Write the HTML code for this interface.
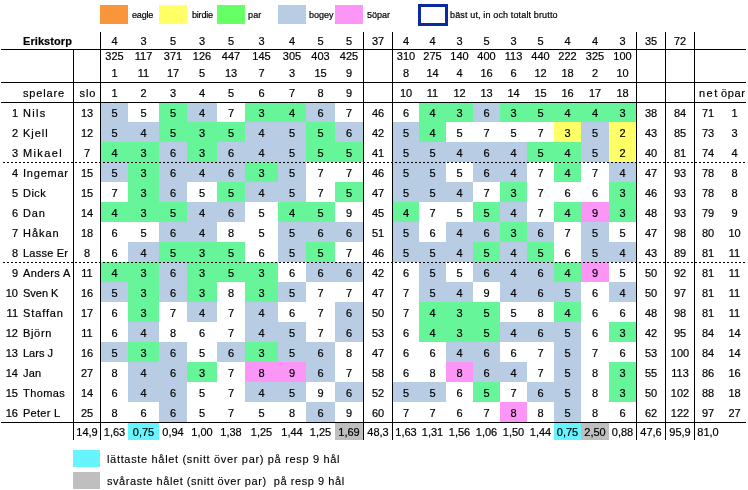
<!DOCTYPE html>
<html><head><meta charset="utf-8"><title>Erikstorp</title>
<style>
html,body{margin:0;padding:0;background:#fff;}
body{width:748px;height:490px;position:relative;overflow:hidden;font-family:"Liberation Sans",Arial,sans-serif;font-size:11px;color:#000;-webkit-text-stroke:0.2px #000;}
.r{position:absolute;}
.t{position:absolute;line-height:14px;white-space:nowrap;}
.t.c{text-align:center;} .t.l{text-align:left;} .t.r{text-align:right;}
.dl{position:absolute;height:1px;background:repeating-linear-gradient(90deg,#000 0,#000 2px,transparent 2px,transparent 4px);}
</style></head><body>
<div class="r" style="left:100px;top:5px;width:28px;height:19px;background:#F9963B"></div>
<div class="t l" style="left:132px;top:8px;width:26px;font-size:9px;letter-spacing:-0.175px">eagle</div>
<div class="r" style="left:159px;top:5px;width:28px;height:19px;background:#FFFF66"></div>
<div class="t l" style="left:192px;top:8px;width:24px;font-size:9px;letter-spacing:-0.2px">birdie</div>
<div class="r" style="left:217px;top:5px;width:28px;height:19px;background:#66FF66"></div>
<div class="t l" style="left:248px;top:8px;width:27px;font-size:9px;letter-spacing:0.15px">par</div>
<div class="r" style="left:278px;top:5px;width:28px;height:19px;background:#B8CCE4"></div>
<div class="t l" style="left:309px;top:8px;width:26px;font-size:9px">bogey</div>
<div class="r" style="left:335px;top:5px;width:28px;height:19px;background:#FC96F6"></div>
<div class="t l" style="left:367px;top:8px;width:28px;font-size:9px;letter-spacing:-0.025px">5öpar</div>
<div class="r" style="left:418px;top:4px;width:24px;height:16px;border:3px solid #0A2A9E;background:#fff"></div>
<div class="t l" style="left:450px;top:8px;width:150px;font-size:9px;letter-spacing:0.143px">bäst ut, in och totalt brutto</div>
<div class="t l" style="left:23px;top:34px;width:77px;letter-spacing:0.075px;font-weight:bold">Erikstorp</div>
<div class="t c" style="left:101px;top:34px;width:27px">4</div>
<div class="t c" style="left:101px;top:49px;width:27px">325</div>
<div class="t c" style="left:101px;top:66px;width:27px">1</div>
<div class="t c" style="left:101px;top:86px;width:27px">1</div>
<div class="t c" style="left:128px;top:34px;width:31px">3</div>
<div class="t c" style="left:128px;top:49px;width:31px">117</div>
<div class="t c" style="left:128px;top:66px;width:31px">11</div>
<div class="t c" style="left:128px;top:86px;width:31px">2</div>
<div class="t c" style="left:159px;top:34px;width:28px">5</div>
<div class="t c" style="left:159px;top:49px;width:28px">371</div>
<div class="t c" style="left:159px;top:66px;width:28px">17</div>
<div class="t c" style="left:159px;top:86px;width:28px">3</div>
<div class="t c" style="left:187px;top:34px;width:30px">3</div>
<div class="t c" style="left:187px;top:49px;width:30px">126</div>
<div class="t c" style="left:187px;top:66px;width:30px">5</div>
<div class="t c" style="left:187px;top:86px;width:30px">4</div>
<div class="t c" style="left:217px;top:34px;width:28px">5</div>
<div class="t c" style="left:217px;top:49px;width:28px">447</div>
<div class="t c" style="left:217px;top:66px;width:28px">13</div>
<div class="t c" style="left:217px;top:86px;width:28px">5</div>
<div class="t c" style="left:245px;top:34px;width:33px">3</div>
<div class="t c" style="left:245px;top:49px;width:33px">145</div>
<div class="t c" style="left:245px;top:66px;width:33px">7</div>
<div class="t c" style="left:245px;top:86px;width:33px">6</div>
<div class="t c" style="left:278px;top:34px;width:28px">4</div>
<div class="t c" style="left:278px;top:49px;width:28px">305</div>
<div class="t c" style="left:278px;top:66px;width:28px">3</div>
<div class="t c" style="left:278px;top:86px;width:28px">7</div>
<div class="t c" style="left:306px;top:34px;width:29px">5</div>
<div class="t c" style="left:306px;top:49px;width:29px">403</div>
<div class="t c" style="left:306px;top:66px;width:29px">15</div>
<div class="t c" style="left:306px;top:86px;width:29px">8</div>
<div class="t c" style="left:335px;top:34px;width:28px">5</div>
<div class="t c" style="left:335px;top:49px;width:28px">425</div>
<div class="t c" style="left:335px;top:66px;width:28px">9</div>
<div class="t c" style="left:335px;top:86px;width:28px">9</div>
<div class="t c" style="left:393px;top:34px;width:26px">4</div>
<div class="t c" style="left:393px;top:49px;width:26px">310</div>
<div class="t c" style="left:393px;top:66px;width:26px">8</div>
<div class="t c" style="left:393px;top:86px;width:26px">10</div>
<div class="t c" style="left:419px;top:34px;width:27px">4</div>
<div class="t c" style="left:419px;top:49px;width:27px">275</div>
<div class="t c" style="left:419px;top:66px;width:27px">14</div>
<div class="t c" style="left:419px;top:86px;width:27px">11</div>
<div class="t c" style="left:446px;top:34px;width:27px">3</div>
<div class="t c" style="left:446px;top:49px;width:27px">140</div>
<div class="t c" style="left:446px;top:66px;width:27px">4</div>
<div class="t c" style="left:446px;top:86px;width:27px">12</div>
<div class="t c" style="left:473px;top:34px;width:27px">5</div>
<div class="t c" style="left:473px;top:49px;width:27px">400</div>
<div class="t c" style="left:473px;top:66px;width:27px">16</div>
<div class="t c" style="left:473px;top:86px;width:27px">13</div>
<div class="t c" style="left:500px;top:34px;width:27px">3</div>
<div class="t c" style="left:500px;top:49px;width:27px">113</div>
<div class="t c" style="left:500px;top:66px;width:27px">6</div>
<div class="t c" style="left:500px;top:86px;width:27px">14</div>
<div class="t c" style="left:527px;top:34px;width:27px">5</div>
<div class="t c" style="left:527px;top:49px;width:27px">440</div>
<div class="t c" style="left:527px;top:66px;width:27px">12</div>
<div class="t c" style="left:527px;top:86px;width:27px">15</div>
<div class="t c" style="left:554px;top:34px;width:27px">4</div>
<div class="t c" style="left:554px;top:49px;width:27px">222</div>
<div class="t c" style="left:554px;top:66px;width:27px">18</div>
<div class="t c" style="left:554px;top:86px;width:27px">16</div>
<div class="t c" style="left:581px;top:34px;width:28px">4</div>
<div class="t c" style="left:581px;top:49px;width:28px">325</div>
<div class="t c" style="left:581px;top:66px;width:28px">2</div>
<div class="t c" style="left:581px;top:86px;width:28px">17</div>
<div class="t c" style="left:609px;top:34px;width:27px">3</div>
<div class="t c" style="left:609px;top:49px;width:27px">100</div>
<div class="t c" style="left:609px;top:66px;width:27px">10</div>
<div class="t c" style="left:609px;top:86px;width:27px">18</div>
<div class="t c" style="left:364px;top:34px;width:28px">37</div>
<div class="t c" style="left:637px;top:34px;width:28px">35</div>
<div class="t c" style="left:666px;top:34px;width:28px">72</div>
<div class="t l" style="left:23px;top:86px;width:50px;letter-spacing:0.85px">spelare</div>
<div class="t c" style="left:75px;top:86px;width:26px;letter-spacing:0.9px">slo</div>
<div class="t l" style="left:699px;top:86px;width:22px;letter-spacing:1.5px">net</div>
<div class="t l" style="left:721px;top:86px;width:27px;letter-spacing:0.667px">öpar</div>
<div class="r" style="left:101px;top:102px;width:27px;height:20px;background:#B8CCE4"></div>
<div class="t c" style="left:101px;top:106px;width:27px">5</div>
<div class="t c" style="left:128px;top:106px;width:31px">5</div>
<div class="r" style="left:159px;top:102px;width:28px;height:20px;background:#66F599"></div>
<div class="t c" style="left:159px;top:106px;width:28px">5</div>
<div class="r" style="left:187px;top:102px;width:30px;height:20px;background:#B8CCE4"></div>
<div class="t c" style="left:187px;top:106px;width:30px">4</div>
<div class="t c" style="left:217px;top:106px;width:28px">7</div>
<div class="r" style="left:245px;top:102px;width:33px;height:20px;background:#66F599"></div>
<div class="t c" style="left:245px;top:106px;width:33px">3</div>
<div class="r" style="left:278px;top:102px;width:28px;height:20px;background:#66F599"></div>
<div class="t c" style="left:278px;top:106px;width:28px">4</div>
<div class="r" style="left:306px;top:102px;width:29px;height:20px;background:#B8CCE4"></div>
<div class="t c" style="left:306px;top:106px;width:29px">6</div>
<div class="t c" style="left:335px;top:106px;width:28px">7</div>
<div class="t c" style="left:393px;top:106px;width:26px">6</div>
<div class="r" style="left:419px;top:102px;width:27px;height:20px;background:#66F599"></div>
<div class="t c" style="left:419px;top:106px;width:27px">4</div>
<div class="r" style="left:446px;top:102px;width:27px;height:20px;background:#66F599"></div>
<div class="t c" style="left:446px;top:106px;width:27px">3</div>
<div class="r" style="left:473px;top:102px;width:27px;height:20px;background:#B8CCE4"></div>
<div class="t c" style="left:473px;top:106px;width:27px">6</div>
<div class="r" style="left:500px;top:102px;width:27px;height:20px;background:#66F599"></div>
<div class="t c" style="left:500px;top:106px;width:27px">3</div>
<div class="r" style="left:527px;top:102px;width:27px;height:20px;background:#66F599"></div>
<div class="t c" style="left:527px;top:106px;width:27px">5</div>
<div class="r" style="left:554px;top:102px;width:27px;height:20px;background:#66F599"></div>
<div class="t c" style="left:554px;top:106px;width:27px">4</div>
<div class="r" style="left:581px;top:102px;width:28px;height:20px;background:#66F599"></div>
<div class="t c" style="left:581px;top:106px;width:28px">4</div>
<div class="r" style="left:609px;top:102px;width:27px;height:20px;background:#66F599"></div>
<div class="t c" style="left:609px;top:106px;width:27px">3</div>
<div class="t r" style="left:0px;top:106px;width:18px">1</div>
<div class="t l" style="left:23px;top:106px;width:50px;letter-spacing:1.3px">Nils</div>
<div class="t c" style="left:74px;top:106px;width:26px">13</div>
<div class="t c" style="left:364px;top:106px;width:28px">46</div>
<div class="t c" style="left:637px;top:106px;width:28px">38</div>
<div class="t c" style="left:666px;top:106px;width:28px">84</div>
<div class="t c" style="left:695px;top:106px;width:26px">71</div>
<div class="t c" style="left:721px;top:106px;width:27px">1</div>
<div class="r" style="left:101px;top:122px;width:27px;height:20px;background:#B8CCE4"></div>
<div class="t c" style="left:101px;top:126px;width:27px">5</div>
<div class="r" style="left:128px;top:122px;width:31px;height:20px;background:#B8CCE4"></div>
<div class="t c" style="left:128px;top:126px;width:31px">4</div>
<div class="r" style="left:159px;top:122px;width:28px;height:20px;background:#66F599"></div>
<div class="t c" style="left:159px;top:126px;width:28px">5</div>
<div class="r" style="left:187px;top:122px;width:30px;height:20px;background:#66F599"></div>
<div class="t c" style="left:187px;top:126px;width:30px">3</div>
<div class="r" style="left:217px;top:122px;width:28px;height:20px;background:#66F599"></div>
<div class="t c" style="left:217px;top:126px;width:28px">5</div>
<div class="r" style="left:245px;top:122px;width:33px;height:20px;background:#B8CCE4"></div>
<div class="t c" style="left:245px;top:126px;width:33px">4</div>
<div class="r" style="left:278px;top:122px;width:28px;height:20px;background:#B8CCE4"></div>
<div class="t c" style="left:278px;top:126px;width:28px">5</div>
<div class="r" style="left:306px;top:122px;width:29px;height:20px;background:#66F599"></div>
<div class="t c" style="left:306px;top:126px;width:29px">5</div>
<div class="r" style="left:335px;top:122px;width:28px;height:20px;background:#B8CCE4"></div>
<div class="t c" style="left:335px;top:126px;width:28px">6</div>
<div class="r" style="left:393px;top:122px;width:26px;height:20px;background:#B8CCE4"></div>
<div class="t c" style="left:393px;top:126px;width:26px">5</div>
<div class="r" style="left:419px;top:122px;width:27px;height:20px;background:#66F599"></div>
<div class="t c" style="left:419px;top:126px;width:27px">4</div>
<div class="t c" style="left:446px;top:126px;width:27px">5</div>
<div class="t c" style="left:473px;top:126px;width:27px">7</div>
<div class="t c" style="left:500px;top:126px;width:27px">5</div>
<div class="t c" style="left:527px;top:126px;width:27px">7</div>
<div class="r" style="left:554px;top:122px;width:27px;height:20px;background:#FFFF66"></div>
<div class="t c" style="left:554px;top:126px;width:27px">3</div>
<div class="r" style="left:581px;top:122px;width:28px;height:20px;background:#B8CCE4"></div>
<div class="t c" style="left:581px;top:126px;width:28px">5</div>
<div class="r" style="left:609px;top:122px;width:27px;height:20px;background:#FFFF66"></div>
<div class="t c" style="left:609px;top:126px;width:27px">2</div>
<div class="t r" style="left:0px;top:126px;width:18px">2</div>
<div class="t l" style="left:23px;top:126px;width:50px;letter-spacing:0.95px">Kjell</div>
<div class="t c" style="left:74px;top:126px;width:26px">12</div>
<div class="t c" style="left:364px;top:126px;width:28px">42</div>
<div class="t c" style="left:637px;top:126px;width:28px">43</div>
<div class="t c" style="left:666px;top:126px;width:28px">85</div>
<div class="t c" style="left:695px;top:126px;width:26px">73</div>
<div class="t c" style="left:721px;top:126px;width:27px">3</div>
<div class="r" style="left:101px;top:142px;width:27px;height:20px;background:#66F599"></div>
<div class="t c" style="left:101px;top:146px;width:27px">4</div>
<div class="r" style="left:128px;top:142px;width:31px;height:20px;background:#66F599"></div>
<div class="t c" style="left:128px;top:146px;width:31px">3</div>
<div class="r" style="left:159px;top:142px;width:28px;height:20px;background:#B8CCE4"></div>
<div class="t c" style="left:159px;top:146px;width:28px">6</div>
<div class="r" style="left:187px;top:142px;width:30px;height:20px;background:#66F599"></div>
<div class="t c" style="left:187px;top:146px;width:30px">3</div>
<div class="r" style="left:217px;top:142px;width:28px;height:20px;background:#B8CCE4"></div>
<div class="t c" style="left:217px;top:146px;width:28px">6</div>
<div class="r" style="left:245px;top:142px;width:33px;height:20px;background:#B8CCE4"></div>
<div class="t c" style="left:245px;top:146px;width:33px">4</div>
<div class="r" style="left:278px;top:142px;width:28px;height:20px;background:#B8CCE4"></div>
<div class="t c" style="left:278px;top:146px;width:28px">5</div>
<div class="r" style="left:306px;top:142px;width:29px;height:20px;background:#66F599"></div>
<div class="t c" style="left:306px;top:146px;width:29px">5</div>
<div class="r" style="left:335px;top:142px;width:28px;height:20px;background:#66F599"></div>
<div class="t c" style="left:335px;top:146px;width:28px">5</div>
<div class="r" style="left:393px;top:142px;width:26px;height:20px;background:#B8CCE4"></div>
<div class="t c" style="left:393px;top:146px;width:26px">5</div>
<div class="r" style="left:419px;top:142px;width:27px;height:20px;background:#B8CCE4"></div>
<div class="t c" style="left:419px;top:146px;width:27px">5</div>
<div class="r" style="left:446px;top:142px;width:27px;height:20px;background:#B8CCE4"></div>
<div class="t c" style="left:446px;top:146px;width:27px">4</div>
<div class="r" style="left:473px;top:142px;width:27px;height:20px;background:#B8CCE4"></div>
<div class="t c" style="left:473px;top:146px;width:27px">6</div>
<div class="r" style="left:500px;top:142px;width:27px;height:20px;background:#B8CCE4"></div>
<div class="t c" style="left:500px;top:146px;width:27px">4</div>
<div class="r" style="left:527px;top:142px;width:27px;height:20px;background:#66F599"></div>
<div class="t c" style="left:527px;top:146px;width:27px">5</div>
<div class="r" style="left:554px;top:142px;width:27px;height:20px;background:#66F599"></div>
<div class="t c" style="left:554px;top:146px;width:27px">4</div>
<div class="r" style="left:581px;top:142px;width:28px;height:20px;background:#B8CCE4"></div>
<div class="t c" style="left:581px;top:146px;width:28px">5</div>
<div class="r" style="left:609px;top:142px;width:27px;height:20px;background:#FFFF66"></div>
<div class="t c" style="left:609px;top:146px;width:27px">2</div>
<div class="t r" style="left:0px;top:146px;width:18px">3</div>
<div class="t l" style="left:23px;top:146px;width:50px;letter-spacing:1.36px">Mikael</div>
<div class="t c" style="left:74px;top:146px;width:26px">7</div>
<div class="t c" style="left:364px;top:146px;width:28px">41</div>
<div class="t c" style="left:637px;top:146px;width:28px">40</div>
<div class="t c" style="left:666px;top:146px;width:28px">81</div>
<div class="t c" style="left:695px;top:146px;width:26px">74</div>
<div class="t c" style="left:721px;top:146px;width:27px">4</div>
<div class="r" style="left:101px;top:162px;width:27px;height:20px;background:#B8CCE4"></div>
<div class="t c" style="left:101px;top:166px;width:27px">5</div>
<div class="r" style="left:128px;top:162px;width:31px;height:20px;background:#66F599"></div>
<div class="t c" style="left:128px;top:166px;width:31px">3</div>
<div class="r" style="left:159px;top:162px;width:28px;height:20px;background:#B8CCE4"></div>
<div class="t c" style="left:159px;top:166px;width:28px">6</div>
<div class="r" style="left:187px;top:162px;width:30px;height:20px;background:#B8CCE4"></div>
<div class="t c" style="left:187px;top:166px;width:30px">4</div>
<div class="r" style="left:217px;top:162px;width:28px;height:20px;background:#B8CCE4"></div>
<div class="t c" style="left:217px;top:166px;width:28px">6</div>
<div class="r" style="left:245px;top:162px;width:33px;height:20px;background:#66F599"></div>
<div class="t c" style="left:245px;top:166px;width:33px">3</div>
<div class="r" style="left:278px;top:162px;width:28px;height:20px;background:#B8CCE4"></div>
<div class="t c" style="left:278px;top:166px;width:28px">5</div>
<div class="t c" style="left:306px;top:166px;width:29px">7</div>
<div class="t c" style="left:335px;top:166px;width:28px">7</div>
<div class="r" style="left:393px;top:162px;width:26px;height:20px;background:#B8CCE4"></div>
<div class="t c" style="left:393px;top:166px;width:26px">5</div>
<div class="r" style="left:419px;top:162px;width:27px;height:20px;background:#B8CCE4"></div>
<div class="t c" style="left:419px;top:166px;width:27px">5</div>
<div class="t c" style="left:446px;top:166px;width:27px">5</div>
<div class="r" style="left:473px;top:162px;width:27px;height:20px;background:#B8CCE4"></div>
<div class="t c" style="left:473px;top:166px;width:27px">6</div>
<div class="r" style="left:500px;top:162px;width:27px;height:20px;background:#B8CCE4"></div>
<div class="t c" style="left:500px;top:166px;width:27px">4</div>
<div class="t c" style="left:527px;top:166px;width:27px">7</div>
<div class="r" style="left:554px;top:162px;width:27px;height:20px;background:#66F599"></div>
<div class="t c" style="left:554px;top:166px;width:27px">4</div>
<div class="t c" style="left:581px;top:166px;width:28px">7</div>
<div class="r" style="left:609px;top:162px;width:27px;height:20px;background:#B8CCE4"></div>
<div class="t c" style="left:609px;top:166px;width:27px">4</div>
<div class="t r" style="left:0px;top:166px;width:18px">4</div>
<div class="t l" style="left:23px;top:166px;width:50px;letter-spacing:0.78px">Ingemar</div>
<div class="t c" style="left:74px;top:166px;width:26px">15</div>
<div class="t c" style="left:364px;top:166px;width:28px">46</div>
<div class="t c" style="left:637px;top:166px;width:28px">47</div>
<div class="t c" style="left:666px;top:166px;width:28px">93</div>
<div class="t c" style="left:695px;top:166px;width:26px">78</div>
<div class="t c" style="left:721px;top:166px;width:27px">8</div>
<div class="t c" style="left:101px;top:186px;width:27px">7</div>
<div class="r" style="left:128px;top:182px;width:31px;height:20px;background:#66F599"></div>
<div class="t c" style="left:128px;top:186px;width:31px">3</div>
<div class="r" style="left:159px;top:182px;width:28px;height:20px;background:#B8CCE4"></div>
<div class="t c" style="left:159px;top:186px;width:28px">6</div>
<div class="t c" style="left:187px;top:186px;width:30px">5</div>
<div class="r" style="left:217px;top:182px;width:28px;height:20px;background:#66F599"></div>
<div class="t c" style="left:217px;top:186px;width:28px">5</div>
<div class="r" style="left:245px;top:182px;width:33px;height:20px;background:#B8CCE4"></div>
<div class="t c" style="left:245px;top:186px;width:33px">4</div>
<div class="r" style="left:278px;top:182px;width:28px;height:20px;background:#B8CCE4"></div>
<div class="t c" style="left:278px;top:186px;width:28px">5</div>
<div class="t c" style="left:306px;top:186px;width:29px">7</div>
<div class="r" style="left:335px;top:182px;width:28px;height:20px;background:#66F599"></div>
<div class="t c" style="left:335px;top:186px;width:28px">5</div>
<div class="r" style="left:393px;top:182px;width:26px;height:20px;background:#B8CCE4"></div>
<div class="t c" style="left:393px;top:186px;width:26px">5</div>
<div class="r" style="left:419px;top:182px;width:27px;height:20px;background:#B8CCE4"></div>
<div class="t c" style="left:419px;top:186px;width:27px">5</div>
<div class="r" style="left:446px;top:182px;width:27px;height:20px;background:#B8CCE4"></div>
<div class="t c" style="left:446px;top:186px;width:27px">4</div>
<div class="t c" style="left:473px;top:186px;width:27px">7</div>
<div class="r" style="left:500px;top:182px;width:27px;height:20px;background:#66F599"></div>
<div class="t c" style="left:500px;top:186px;width:27px">3</div>
<div class="t c" style="left:527px;top:186px;width:27px">7</div>
<div class="t c" style="left:554px;top:186px;width:27px">6</div>
<div class="t c" style="left:581px;top:186px;width:28px">6</div>
<div class="r" style="left:609px;top:182px;width:27px;height:20px;background:#66F599"></div>
<div class="t c" style="left:609px;top:186px;width:27px">3</div>
<div class="t r" style="left:0px;top:186px;width:18px">5</div>
<div class="t l" style="left:23px;top:186px;width:50px;letter-spacing:0.47px">Dick</div>
<div class="t c" style="left:74px;top:186px;width:26px">15</div>
<div class="t c" style="left:364px;top:186px;width:28px">47</div>
<div class="t c" style="left:637px;top:186px;width:28px">46</div>
<div class="t c" style="left:666px;top:186px;width:28px">93</div>
<div class="t c" style="left:695px;top:186px;width:26px">78</div>
<div class="t c" style="left:721px;top:186px;width:27px">8</div>
<div class="r" style="left:101px;top:202px;width:27px;height:20px;background:#66F599"></div>
<div class="t c" style="left:101px;top:206px;width:27px">4</div>
<div class="r" style="left:128px;top:202px;width:31px;height:20px;background:#66F599"></div>
<div class="t c" style="left:128px;top:206px;width:31px">3</div>
<div class="r" style="left:159px;top:202px;width:28px;height:20px;background:#66F599"></div>
<div class="t c" style="left:159px;top:206px;width:28px">5</div>
<div class="r" style="left:187px;top:202px;width:30px;height:20px;background:#B8CCE4"></div>
<div class="t c" style="left:187px;top:206px;width:30px">4</div>
<div class="r" style="left:217px;top:202px;width:28px;height:20px;background:#B8CCE4"></div>
<div class="t c" style="left:217px;top:206px;width:28px">6</div>
<div class="t c" style="left:245px;top:206px;width:33px">5</div>
<div class="r" style="left:278px;top:202px;width:28px;height:20px;background:#66F599"></div>
<div class="t c" style="left:278px;top:206px;width:28px">4</div>
<div class="r" style="left:306px;top:202px;width:29px;height:20px;background:#66F599"></div>
<div class="t c" style="left:306px;top:206px;width:29px">5</div>
<div class="t c" style="left:335px;top:206px;width:28px">9</div>
<div class="r" style="left:393px;top:202px;width:26px;height:20px;background:#66F599"></div>
<div class="t c" style="left:393px;top:206px;width:26px">4</div>
<div class="t c" style="left:419px;top:206px;width:27px">7</div>
<div class="t c" style="left:446px;top:206px;width:27px">5</div>
<div class="r" style="left:473px;top:202px;width:27px;height:20px;background:#66F599"></div>
<div class="t c" style="left:473px;top:206px;width:27px">5</div>
<div class="r" style="left:500px;top:202px;width:27px;height:20px;background:#B8CCE4"></div>
<div class="t c" style="left:500px;top:206px;width:27px">4</div>
<div class="t c" style="left:527px;top:206px;width:27px">7</div>
<div class="r" style="left:554px;top:202px;width:27px;height:20px;background:#66F599"></div>
<div class="t c" style="left:554px;top:206px;width:27px">4</div>
<div class="r" style="left:581px;top:202px;width:28px;height:20px;background:#FC96F6"></div>
<div class="t c" style="left:581px;top:206px;width:28px">9</div>
<div class="r" style="left:609px;top:202px;width:27px;height:20px;background:#66F599"></div>
<div class="t c" style="left:609px;top:206px;width:27px">3</div>
<div class="t r" style="left:0px;top:206px;width:18px">6</div>
<div class="t l" style="left:23px;top:206px;width:50px;letter-spacing:0.8px">Dan</div>
<div class="t c" style="left:74px;top:206px;width:26px">14</div>
<div class="t c" style="left:364px;top:206px;width:28px">45</div>
<div class="t c" style="left:637px;top:206px;width:28px">48</div>
<div class="t c" style="left:666px;top:206px;width:28px">93</div>
<div class="t c" style="left:695px;top:206px;width:26px">79</div>
<div class="t c" style="left:721px;top:206px;width:27px">9</div>
<div class="t c" style="left:101px;top:226px;width:27px">6</div>
<div class="t c" style="left:128px;top:226px;width:31px">5</div>
<div class="r" style="left:159px;top:222px;width:28px;height:20px;background:#B8CCE4"></div>
<div class="t c" style="left:159px;top:226px;width:28px">6</div>
<div class="r" style="left:187px;top:222px;width:30px;height:20px;background:#B8CCE4"></div>
<div class="t c" style="left:187px;top:226px;width:30px">4</div>
<div class="t c" style="left:217px;top:226px;width:28px">8</div>
<div class="t c" style="left:245px;top:226px;width:33px">5</div>
<div class="r" style="left:278px;top:222px;width:28px;height:20px;background:#B8CCE4"></div>
<div class="t c" style="left:278px;top:226px;width:28px">5</div>
<div class="r" style="left:306px;top:222px;width:29px;height:20px;background:#B8CCE4"></div>
<div class="t c" style="left:306px;top:226px;width:29px">6</div>
<div class="r" style="left:335px;top:222px;width:28px;height:20px;background:#B8CCE4"></div>
<div class="t c" style="left:335px;top:226px;width:28px">6</div>
<div class="r" style="left:393px;top:222px;width:26px;height:20px;background:#B8CCE4"></div>
<div class="t c" style="left:393px;top:226px;width:26px">5</div>
<div class="t c" style="left:419px;top:226px;width:27px">6</div>
<div class="r" style="left:446px;top:222px;width:27px;height:20px;background:#B8CCE4"></div>
<div class="t c" style="left:446px;top:226px;width:27px">4</div>
<div class="r" style="left:473px;top:222px;width:27px;height:20px;background:#B8CCE4"></div>
<div class="t c" style="left:473px;top:226px;width:27px">6</div>
<div class="r" style="left:500px;top:222px;width:27px;height:20px;background:#66F599"></div>
<div class="t c" style="left:500px;top:226px;width:27px">3</div>
<div class="r" style="left:527px;top:222px;width:27px;height:20px;background:#B8CCE4"></div>
<div class="t c" style="left:527px;top:226px;width:27px">6</div>
<div class="t c" style="left:554px;top:226px;width:27px">7</div>
<div class="r" style="left:581px;top:222px;width:28px;height:20px;background:#B8CCE4"></div>
<div class="t c" style="left:581px;top:226px;width:28px">5</div>
<div class="t c" style="left:609px;top:226px;width:27px">5</div>
<div class="t r" style="left:0px;top:226px;width:18px">7</div>
<div class="t l" style="left:23px;top:226px;width:50px;letter-spacing:0.97px">Håkan</div>
<div class="t c" style="left:74px;top:226px;width:26px">18</div>
<div class="t c" style="left:364px;top:226px;width:28px">51</div>
<div class="t c" style="left:637px;top:226px;width:28px">47</div>
<div class="t c" style="left:666px;top:226px;width:28px">98</div>
<div class="t c" style="left:695px;top:226px;width:26px">80</div>
<div class="t c" style="left:721px;top:226px;width:27px">10</div>
<div class="t c" style="left:101px;top:246px;width:27px">6</div>
<div class="r" style="left:128px;top:242px;width:31px;height:20px;background:#B8CCE4"></div>
<div class="t c" style="left:128px;top:246px;width:31px">4</div>
<div class="r" style="left:159px;top:242px;width:28px;height:20px;background:#66F599"></div>
<div class="t c" style="left:159px;top:246px;width:28px">5</div>
<div class="r" style="left:187px;top:242px;width:30px;height:20px;background:#66F599"></div>
<div class="t c" style="left:187px;top:246px;width:30px">3</div>
<div class="r" style="left:217px;top:242px;width:28px;height:20px;background:#66F599"></div>
<div class="t c" style="left:217px;top:246px;width:28px">5</div>
<div class="t c" style="left:245px;top:246px;width:33px">6</div>
<div class="r" style="left:278px;top:242px;width:28px;height:20px;background:#B8CCE4"></div>
<div class="t c" style="left:278px;top:246px;width:28px">5</div>
<div class="r" style="left:306px;top:242px;width:29px;height:20px;background:#66F599"></div>
<div class="t c" style="left:306px;top:246px;width:29px">5</div>
<div class="t c" style="left:335px;top:246px;width:28px">7</div>
<div class="r" style="left:393px;top:242px;width:26px;height:20px;background:#B8CCE4"></div>
<div class="t c" style="left:393px;top:246px;width:26px">5</div>
<div class="r" style="left:419px;top:242px;width:27px;height:20px;background:#B8CCE4"></div>
<div class="t c" style="left:419px;top:246px;width:27px">5</div>
<div class="r" style="left:446px;top:242px;width:27px;height:20px;background:#B8CCE4"></div>
<div class="t c" style="left:446px;top:246px;width:27px">4</div>
<div class="r" style="left:473px;top:242px;width:27px;height:20px;background:#66F599"></div>
<div class="t c" style="left:473px;top:246px;width:27px">5</div>
<div class="r" style="left:500px;top:242px;width:27px;height:20px;background:#B8CCE4"></div>
<div class="t c" style="left:500px;top:246px;width:27px">4</div>
<div class="r" style="left:527px;top:242px;width:27px;height:20px;background:#66F599"></div>
<div class="t c" style="left:527px;top:246px;width:27px">5</div>
<div class="t c" style="left:554px;top:246px;width:27px">6</div>
<div class="r" style="left:581px;top:242px;width:28px;height:20px;background:#B8CCE4"></div>
<div class="t c" style="left:581px;top:246px;width:28px">5</div>
<div class="r" style="left:609px;top:242px;width:27px;height:20px;background:#B8CCE4"></div>
<div class="t c" style="left:609px;top:246px;width:27px">4</div>
<div class="t r" style="left:0px;top:246px;width:18px">8</div>
<div class="t l" style="left:23px;top:246px;width:50px;letter-spacing:0.23px">Lasse Er</div>
<div class="t c" style="left:74px;top:246px;width:26px">8</div>
<div class="t c" style="left:364px;top:246px;width:28px">46</div>
<div class="t c" style="left:637px;top:246px;width:28px">43</div>
<div class="t c" style="left:666px;top:246px;width:28px">89</div>
<div class="t c" style="left:695px;top:246px;width:26px">81</div>
<div class="t c" style="left:721px;top:246px;width:27px">11</div>
<div class="r" style="left:101px;top:262px;width:27px;height:20px;background:#66F599"></div>
<div class="t c" style="left:101px;top:266px;width:27px">4</div>
<div class="r" style="left:128px;top:262px;width:31px;height:20px;background:#66F599"></div>
<div class="t c" style="left:128px;top:266px;width:31px">3</div>
<div class="r" style="left:159px;top:262px;width:28px;height:20px;background:#B8CCE4"></div>
<div class="t c" style="left:159px;top:266px;width:28px">6</div>
<div class="r" style="left:187px;top:262px;width:30px;height:20px;background:#66F599"></div>
<div class="t c" style="left:187px;top:266px;width:30px">3</div>
<div class="r" style="left:217px;top:262px;width:28px;height:20px;background:#66F599"></div>
<div class="t c" style="left:217px;top:266px;width:28px">5</div>
<div class="r" style="left:245px;top:262px;width:33px;height:20px;background:#66F599"></div>
<div class="t c" style="left:245px;top:266px;width:33px">3</div>
<div class="t c" style="left:278px;top:266px;width:28px">6</div>
<div class="r" style="left:306px;top:262px;width:29px;height:20px;background:#B8CCE4"></div>
<div class="t c" style="left:306px;top:266px;width:29px">6</div>
<div class="r" style="left:335px;top:262px;width:28px;height:20px;background:#B8CCE4"></div>
<div class="t c" style="left:335px;top:266px;width:28px">6</div>
<div class="t c" style="left:393px;top:266px;width:26px">6</div>
<div class="r" style="left:419px;top:262px;width:27px;height:20px;background:#B8CCE4"></div>
<div class="t c" style="left:419px;top:266px;width:27px">5</div>
<div class="t c" style="left:446px;top:266px;width:27px">5</div>
<div class="r" style="left:473px;top:262px;width:27px;height:20px;background:#B8CCE4"></div>
<div class="t c" style="left:473px;top:266px;width:27px">6</div>
<div class="r" style="left:500px;top:262px;width:27px;height:20px;background:#B8CCE4"></div>
<div class="t c" style="left:500px;top:266px;width:27px">4</div>
<div class="r" style="left:527px;top:262px;width:27px;height:20px;background:#B8CCE4"></div>
<div class="t c" style="left:527px;top:266px;width:27px">6</div>
<div class="r" style="left:554px;top:262px;width:27px;height:20px;background:#66F599"></div>
<div class="t c" style="left:554px;top:266px;width:27px">4</div>
<div class="r" style="left:581px;top:262px;width:28px;height:20px;background:#FC96F6"></div>
<div class="t c" style="left:581px;top:266px;width:28px">9</div>
<div class="t c" style="left:609px;top:266px;width:27px">5</div>
<div class="t r" style="left:0px;top:266px;width:18px">9</div>
<div class="t l" style="left:23px;top:266px;width:50px;letter-spacing:0.37px">Anders A</div>
<div class="t c" style="left:74px;top:266px;width:26px">11</div>
<div class="t c" style="left:364px;top:266px;width:28px">42</div>
<div class="t c" style="left:637px;top:266px;width:28px">50</div>
<div class="t c" style="left:666px;top:266px;width:28px">92</div>
<div class="t c" style="left:695px;top:266px;width:26px">81</div>
<div class="t c" style="left:721px;top:266px;width:27px">11</div>
<div class="r" style="left:101px;top:282px;width:27px;height:20px;background:#B8CCE4"></div>
<div class="t c" style="left:101px;top:286px;width:27px">5</div>
<div class="r" style="left:128px;top:282px;width:31px;height:20px;background:#66F599"></div>
<div class="t c" style="left:128px;top:286px;width:31px">3</div>
<div class="r" style="left:159px;top:282px;width:28px;height:20px;background:#B8CCE4"></div>
<div class="t c" style="left:159px;top:286px;width:28px">6</div>
<div class="r" style="left:187px;top:282px;width:30px;height:20px;background:#66F599"></div>
<div class="t c" style="left:187px;top:286px;width:30px">3</div>
<div class="t c" style="left:217px;top:286px;width:28px">8</div>
<div class="r" style="left:245px;top:282px;width:33px;height:20px;background:#66F599"></div>
<div class="t c" style="left:245px;top:286px;width:33px">3</div>
<div class="r" style="left:278px;top:282px;width:28px;height:20px;background:#B8CCE4"></div>
<div class="t c" style="left:278px;top:286px;width:28px">5</div>
<div class="t c" style="left:306px;top:286px;width:29px">7</div>
<div class="t c" style="left:335px;top:286px;width:28px">7</div>
<div class="t c" style="left:393px;top:286px;width:26px">7</div>
<div class="r" style="left:419px;top:282px;width:27px;height:20px;background:#B8CCE4"></div>
<div class="t c" style="left:419px;top:286px;width:27px">5</div>
<div class="r" style="left:446px;top:282px;width:27px;height:20px;background:#B8CCE4"></div>
<div class="t c" style="left:446px;top:286px;width:27px">4</div>
<div class="t c" style="left:473px;top:286px;width:27px">9</div>
<div class="r" style="left:500px;top:282px;width:27px;height:20px;background:#B8CCE4"></div>
<div class="t c" style="left:500px;top:286px;width:27px">4</div>
<div class="r" style="left:527px;top:282px;width:27px;height:20px;background:#B8CCE4"></div>
<div class="t c" style="left:527px;top:286px;width:27px">6</div>
<div class="r" style="left:554px;top:282px;width:27px;height:20px;background:#B8CCE4"></div>
<div class="t c" style="left:554px;top:286px;width:27px">5</div>
<div class="t c" style="left:581px;top:286px;width:28px">6</div>
<div class="r" style="left:609px;top:282px;width:27px;height:20px;background:#B8CCE4"></div>
<div class="t c" style="left:609px;top:286px;width:27px">4</div>
<div class="t r" style="left:0px;top:286px;width:18px">10</div>
<div class="t l" style="left:23px;top:286px;width:50px;letter-spacing:-0.02px">Sven K</div>
<div class="t c" style="left:74px;top:286px;width:26px">16</div>
<div class="t c" style="left:364px;top:286px;width:28px">47</div>
<div class="t c" style="left:637px;top:286px;width:28px">50</div>
<div class="t c" style="left:666px;top:286px;width:28px">97</div>
<div class="t c" style="left:695px;top:286px;width:26px">81</div>
<div class="t c" style="left:721px;top:286px;width:27px">11</div>
<div class="t c" style="left:101px;top:306px;width:27px">6</div>
<div class="r" style="left:128px;top:302px;width:31px;height:20px;background:#66F599"></div>
<div class="t c" style="left:128px;top:306px;width:31px">3</div>
<div class="t c" style="left:159px;top:306px;width:28px">7</div>
<div class="r" style="left:187px;top:302px;width:30px;height:20px;background:#B8CCE4"></div>
<div class="t c" style="left:187px;top:306px;width:30px">4</div>
<div class="t c" style="left:217px;top:306px;width:28px">7</div>
<div class="r" style="left:245px;top:302px;width:33px;height:20px;background:#B8CCE4"></div>
<div class="t c" style="left:245px;top:306px;width:33px">4</div>
<div class="t c" style="left:278px;top:306px;width:28px">6</div>
<div class="t c" style="left:306px;top:306px;width:29px">7</div>
<div class="r" style="left:335px;top:302px;width:28px;height:20px;background:#B8CCE4"></div>
<div class="t c" style="left:335px;top:306px;width:28px">6</div>
<div class="t c" style="left:393px;top:306px;width:26px">7</div>
<div class="r" style="left:419px;top:302px;width:27px;height:20px;background:#66F599"></div>
<div class="t c" style="left:419px;top:306px;width:27px">4</div>
<div class="r" style="left:446px;top:302px;width:27px;height:20px;background:#66F599"></div>
<div class="t c" style="left:446px;top:306px;width:27px">3</div>
<div class="r" style="left:473px;top:302px;width:27px;height:20px;background:#66F599"></div>
<div class="t c" style="left:473px;top:306px;width:27px">5</div>
<div class="t c" style="left:500px;top:306px;width:27px">5</div>
<div class="t c" style="left:527px;top:306px;width:27px">8</div>
<div class="r" style="left:554px;top:302px;width:27px;height:20px;background:#66F599"></div>
<div class="t c" style="left:554px;top:306px;width:27px">4</div>
<div class="t c" style="left:581px;top:306px;width:28px">6</div>
<div class="t c" style="left:609px;top:306px;width:27px">6</div>
<div class="t r" style="left:0px;top:306px;width:18px">11</div>
<div class="t l" style="left:23px;top:306px;width:50px;letter-spacing:0.88px">Staffan</div>
<div class="t c" style="left:74px;top:306px;width:26px">17</div>
<div class="t c" style="left:364px;top:306px;width:28px">50</div>
<div class="t c" style="left:637px;top:306px;width:28px">48</div>
<div class="t c" style="left:666px;top:306px;width:28px">98</div>
<div class="t c" style="left:695px;top:306px;width:26px">81</div>
<div class="t c" style="left:721px;top:306px;width:27px">11</div>
<div class="t c" style="left:101px;top:326px;width:27px">6</div>
<div class="r" style="left:128px;top:322px;width:31px;height:20px;background:#B8CCE4"></div>
<div class="t c" style="left:128px;top:326px;width:31px">4</div>
<div class="t c" style="left:159px;top:326px;width:28px">8</div>
<div class="t c" style="left:187px;top:326px;width:30px">6</div>
<div class="t c" style="left:217px;top:326px;width:28px">7</div>
<div class="r" style="left:245px;top:322px;width:33px;height:20px;background:#B8CCE4"></div>
<div class="t c" style="left:245px;top:326px;width:33px">4</div>
<div class="r" style="left:278px;top:322px;width:28px;height:20px;background:#B8CCE4"></div>
<div class="t c" style="left:278px;top:326px;width:28px">5</div>
<div class="t c" style="left:306px;top:326px;width:29px">7</div>
<div class="r" style="left:335px;top:322px;width:28px;height:20px;background:#B8CCE4"></div>
<div class="t c" style="left:335px;top:326px;width:28px">6</div>
<div class="t c" style="left:393px;top:326px;width:26px">6</div>
<div class="r" style="left:419px;top:322px;width:27px;height:20px;background:#66F599"></div>
<div class="t c" style="left:419px;top:326px;width:27px">4</div>
<div class="r" style="left:446px;top:322px;width:27px;height:20px;background:#66F599"></div>
<div class="t c" style="left:446px;top:326px;width:27px">3</div>
<div class="r" style="left:473px;top:322px;width:27px;height:20px;background:#66F599"></div>
<div class="t c" style="left:473px;top:326px;width:27px">5</div>
<div class="r" style="left:500px;top:322px;width:27px;height:20px;background:#B8CCE4"></div>
<div class="t c" style="left:500px;top:326px;width:27px">4</div>
<div class="r" style="left:527px;top:322px;width:27px;height:20px;background:#B8CCE4"></div>
<div class="t c" style="left:527px;top:326px;width:27px">6</div>
<div class="r" style="left:554px;top:322px;width:27px;height:20px;background:#B8CCE4"></div>
<div class="t c" style="left:554px;top:326px;width:27px">5</div>
<div class="t c" style="left:581px;top:326px;width:28px">6</div>
<div class="r" style="left:609px;top:322px;width:27px;height:20px;background:#66F599"></div>
<div class="t c" style="left:609px;top:326px;width:27px">3</div>
<div class="t r" style="left:0px;top:326px;width:18px">12</div>
<div class="t l" style="left:23px;top:326px;width:50px;letter-spacing:0.67px">Björn</div>
<div class="t c" style="left:74px;top:326px;width:26px">11</div>
<div class="t c" style="left:364px;top:326px;width:28px">53</div>
<div class="t c" style="left:637px;top:326px;width:28px">42</div>
<div class="t c" style="left:666px;top:326px;width:28px">95</div>
<div class="t c" style="left:695px;top:326px;width:26px">84</div>
<div class="t c" style="left:721px;top:326px;width:27px">14</div>
<div class="r" style="left:101px;top:342px;width:27px;height:20px;background:#B8CCE4"></div>
<div class="t c" style="left:101px;top:346px;width:27px">5</div>
<div class="r" style="left:128px;top:342px;width:31px;height:20px;background:#66F599"></div>
<div class="t c" style="left:128px;top:346px;width:31px">3</div>
<div class="r" style="left:159px;top:342px;width:28px;height:20px;background:#B8CCE4"></div>
<div class="t c" style="left:159px;top:346px;width:28px">6</div>
<div class="t c" style="left:187px;top:346px;width:30px">5</div>
<div class="r" style="left:217px;top:342px;width:28px;height:20px;background:#B8CCE4"></div>
<div class="t c" style="left:217px;top:346px;width:28px">6</div>
<div class="r" style="left:245px;top:342px;width:33px;height:20px;background:#66F599"></div>
<div class="t c" style="left:245px;top:346px;width:33px">3</div>
<div class="r" style="left:278px;top:342px;width:28px;height:20px;background:#B8CCE4"></div>
<div class="t c" style="left:278px;top:346px;width:28px">5</div>
<div class="r" style="left:306px;top:342px;width:29px;height:20px;background:#B8CCE4"></div>
<div class="t c" style="left:306px;top:346px;width:29px">6</div>
<div class="t c" style="left:335px;top:346px;width:28px">8</div>
<div class="t c" style="left:393px;top:346px;width:26px">6</div>
<div class="t c" style="left:419px;top:346px;width:27px">6</div>
<div class="r" style="left:446px;top:342px;width:27px;height:20px;background:#B8CCE4"></div>
<div class="t c" style="left:446px;top:346px;width:27px">4</div>
<div class="r" style="left:473px;top:342px;width:27px;height:20px;background:#B8CCE4"></div>
<div class="t c" style="left:473px;top:346px;width:27px">6</div>
<div class="t c" style="left:500px;top:346px;width:27px">6</div>
<div class="t c" style="left:527px;top:346px;width:27px">7</div>
<div class="r" style="left:554px;top:342px;width:27px;height:20px;background:#B8CCE4"></div>
<div class="t c" style="left:554px;top:346px;width:27px">5</div>
<div class="t c" style="left:581px;top:346px;width:28px">7</div>
<div class="t c" style="left:609px;top:346px;width:27px">6</div>
<div class="t r" style="left:0px;top:346px;width:18px">13</div>
<div class="t l" style="left:23px;top:346px;width:50px">Lars J</div>
<div class="t c" style="left:74px;top:346px;width:26px">16</div>
<div class="t c" style="left:364px;top:346px;width:28px">47</div>
<div class="t c" style="left:637px;top:346px;width:28px">53</div>
<div class="t c" style="left:666px;top:346px;width:28px">100</div>
<div class="t c" style="left:695px;top:346px;width:26px">84</div>
<div class="t c" style="left:721px;top:346px;width:27px">14</div>
<div class="t c" style="left:101px;top:366px;width:27px">8</div>
<div class="r" style="left:128px;top:362px;width:31px;height:20px;background:#B8CCE4"></div>
<div class="t c" style="left:128px;top:366px;width:31px">4</div>
<div class="r" style="left:159px;top:362px;width:28px;height:20px;background:#B8CCE4"></div>
<div class="t c" style="left:159px;top:366px;width:28px">6</div>
<div class="r" style="left:187px;top:362px;width:30px;height:20px;background:#66F599"></div>
<div class="t c" style="left:187px;top:366px;width:30px">3</div>
<div class="t c" style="left:217px;top:366px;width:28px">7</div>
<div class="r" style="left:245px;top:362px;width:33px;height:20px;background:#FC96F6"></div>
<div class="t c" style="left:245px;top:366px;width:33px">8</div>
<div class="r" style="left:278px;top:362px;width:28px;height:20px;background:#FC96F6"></div>
<div class="t c" style="left:278px;top:366px;width:28px">9</div>
<div class="r" style="left:306px;top:362px;width:29px;height:20px;background:#B8CCE4"></div>
<div class="t c" style="left:306px;top:366px;width:29px">6</div>
<div class="t c" style="left:335px;top:366px;width:28px">7</div>
<div class="t c" style="left:393px;top:366px;width:26px">6</div>
<div class="t c" style="left:419px;top:366px;width:27px">8</div>
<div class="r" style="left:446px;top:362px;width:27px;height:20px;background:#FC96F6"></div>
<div class="t c" style="left:446px;top:366px;width:27px">8</div>
<div class="r" style="left:473px;top:362px;width:27px;height:20px;background:#B8CCE4"></div>
<div class="t c" style="left:473px;top:366px;width:27px">6</div>
<div class="r" style="left:500px;top:362px;width:27px;height:20px;background:#B8CCE4"></div>
<div class="t c" style="left:500px;top:366px;width:27px">4</div>
<div class="t c" style="left:527px;top:366px;width:27px">7</div>
<div class="r" style="left:554px;top:362px;width:27px;height:20px;background:#B8CCE4"></div>
<div class="t c" style="left:554px;top:366px;width:27px">5</div>
<div class="t c" style="left:581px;top:366px;width:28px">8</div>
<div class="r" style="left:609px;top:362px;width:27px;height:20px;background:#66F599"></div>
<div class="t c" style="left:609px;top:366px;width:27px">3</div>
<div class="t r" style="left:0px;top:366px;width:18px">14</div>
<div class="t l" style="left:23px;top:366px;width:50px;letter-spacing:0.2px">Jan</div>
<div class="t c" style="left:74px;top:366px;width:26px">27</div>
<div class="t c" style="left:364px;top:366px;width:28px">58</div>
<div class="t c" style="left:637px;top:366px;width:28px">55</div>
<div class="t c" style="left:666px;top:366px;width:28px">113</div>
<div class="t c" style="left:695px;top:366px;width:26px">86</div>
<div class="t c" style="left:721px;top:366px;width:27px">16</div>
<div class="t c" style="left:101px;top:386px;width:27px">6</div>
<div class="r" style="left:128px;top:382px;width:31px;height:20px;background:#B8CCE4"></div>
<div class="t c" style="left:128px;top:386px;width:31px">4</div>
<div class="r" style="left:159px;top:382px;width:28px;height:20px;background:#B8CCE4"></div>
<div class="t c" style="left:159px;top:386px;width:28px">6</div>
<div class="t c" style="left:187px;top:386px;width:30px">5</div>
<div class="t c" style="left:217px;top:386px;width:28px">7</div>
<div class="r" style="left:245px;top:382px;width:33px;height:20px;background:#B8CCE4"></div>
<div class="t c" style="left:245px;top:386px;width:33px">4</div>
<div class="r" style="left:278px;top:382px;width:28px;height:20px;background:#B8CCE4"></div>
<div class="t c" style="left:278px;top:386px;width:28px">5</div>
<div class="t c" style="left:306px;top:386px;width:29px">9</div>
<div class="r" style="left:335px;top:382px;width:28px;height:20px;background:#B8CCE4"></div>
<div class="t c" style="left:335px;top:386px;width:28px">6</div>
<div class="r" style="left:393px;top:382px;width:26px;height:20px;background:#B8CCE4"></div>
<div class="t c" style="left:393px;top:386px;width:26px">5</div>
<div class="r" style="left:419px;top:382px;width:27px;height:20px;background:#B8CCE4"></div>
<div class="t c" style="left:419px;top:386px;width:27px">5</div>
<div class="t c" style="left:446px;top:386px;width:27px">6</div>
<div class="r" style="left:473px;top:382px;width:27px;height:20px;background:#66F599"></div>
<div class="t c" style="left:473px;top:386px;width:27px">5</div>
<div class="t c" style="left:500px;top:386px;width:27px">7</div>
<div class="r" style="left:527px;top:382px;width:27px;height:20px;background:#B8CCE4"></div>
<div class="t c" style="left:527px;top:386px;width:27px">6</div>
<div class="r" style="left:554px;top:382px;width:27px;height:20px;background:#B8CCE4"></div>
<div class="t c" style="left:554px;top:386px;width:27px">5</div>
<div class="t c" style="left:581px;top:386px;width:28px">8</div>
<div class="r" style="left:609px;top:382px;width:27px;height:20px;background:#66F599"></div>
<div class="t c" style="left:609px;top:386px;width:27px">3</div>
<div class="t r" style="left:0px;top:386px;width:18px">15</div>
<div class="t l" style="left:23px;top:386px;width:50px;letter-spacing:0.42px">Thomas</div>
<div class="t c" style="left:74px;top:386px;width:26px">14</div>
<div class="t c" style="left:364px;top:386px;width:28px">52</div>
<div class="t c" style="left:637px;top:386px;width:28px">50</div>
<div class="t c" style="left:666px;top:386px;width:28px">102</div>
<div class="t c" style="left:695px;top:386px;width:26px">88</div>
<div class="t c" style="left:721px;top:386px;width:27px">18</div>
<div class="t c" style="left:101px;top:406px;width:27px">8</div>
<div class="t c" style="left:128px;top:406px;width:31px">6</div>
<div class="r" style="left:159px;top:402px;width:28px;height:20px;background:#B8CCE4"></div>
<div class="t c" style="left:159px;top:406px;width:28px">6</div>
<div class="t c" style="left:187px;top:406px;width:30px">5</div>
<div class="t c" style="left:217px;top:406px;width:28px">7</div>
<div class="t c" style="left:245px;top:406px;width:33px">5</div>
<div class="t c" style="left:278px;top:406px;width:28px">8</div>
<div class="r" style="left:306px;top:402px;width:29px;height:20px;background:#B8CCE4"></div>
<div class="t c" style="left:306px;top:406px;width:29px">6</div>
<div class="t c" style="left:335px;top:406px;width:28px">9</div>
<div class="t c" style="left:393px;top:406px;width:26px">7</div>
<div class="t c" style="left:419px;top:406px;width:27px">7</div>
<div class="t c" style="left:446px;top:406px;width:27px">6</div>
<div class="t c" style="left:473px;top:406px;width:27px">7</div>
<div class="r" style="left:500px;top:402px;width:27px;height:20px;background:#FC96F6"></div>
<div class="t c" style="left:500px;top:406px;width:27px">8</div>
<div class="t c" style="left:527px;top:406px;width:27px">8</div>
<div class="r" style="left:554px;top:402px;width:27px;height:20px;background:#B8CCE4"></div>
<div class="t c" style="left:554px;top:406px;width:27px">5</div>
<div class="t c" style="left:581px;top:406px;width:28px">8</div>
<div class="t c" style="left:609px;top:406px;width:27px">6</div>
<div class="t r" style="left:0px;top:406px;width:18px">16</div>
<div class="t l" style="left:23px;top:406px;width:50px;letter-spacing:0.27px">Peter L</div>
<div class="t c" style="left:74px;top:406px;width:26px">25</div>
<div class="t c" style="left:364px;top:406px;width:28px">60</div>
<div class="t c" style="left:637px;top:406px;width:28px">62</div>
<div class="t c" style="left:666px;top:406px;width:28px">122</div>
<div class="t c" style="left:695px;top:406px;width:26px">97</div>
<div class="t c" style="left:721px;top:406px;width:27px">27</div>
<div class="t c" style="left:74px;top:425px;width:26px">14,9</div>
<div class="t c" style="left:101px;top:425px;width:27px">1,63</div>
<div class="r" style="left:128px;top:423px;width:31px;height:17px;background:#66F5FF"></div>
<div class="t c" style="left:128px;top:425px;width:31px">0,75</div>
<div class="t c" style="left:159px;top:425px;width:28px">0,94</div>
<div class="t c" style="left:187px;top:425px;width:30px">1,00</div>
<div class="t c" style="left:217px;top:425px;width:28px">1,38</div>
<div class="t c" style="left:245px;top:425px;width:33px">1,25</div>
<div class="t c" style="left:278px;top:425px;width:28px">1,44</div>
<div class="t c" style="left:306px;top:425px;width:29px">1,25</div>
<div class="r" style="left:335px;top:423px;width:28px;height:17px;background:#BFBFBF"></div>
<div class="t c" style="left:335px;top:425px;width:28px">1,69</div>
<div class="t c" style="left:393px;top:425px;width:26px">1,63</div>
<div class="t c" style="left:419px;top:425px;width:27px">1,31</div>
<div class="t c" style="left:446px;top:425px;width:27px">1,56</div>
<div class="t c" style="left:473px;top:425px;width:27px">1,06</div>
<div class="t c" style="left:500px;top:425px;width:27px">1,50</div>
<div class="t c" style="left:527px;top:425px;width:27px">1,44</div>
<div class="r" style="left:554px;top:423px;width:27px;height:17px;background:#66F5FF"></div>
<div class="t c" style="left:554px;top:425px;width:27px">0,75</div>
<div class="r" style="left:581px;top:423px;width:28px;height:17px;background:#BFBFBF"></div>
<div class="t c" style="left:581px;top:425px;width:28px">2,50</div>
<div class="t c" style="left:609px;top:425px;width:27px">0,88</div>
<div class="t c" style="left:364px;top:425px;width:28px">48,3</div>
<div class="t c" style="left:637px;top:425px;width:28px">47,6</div>
<div class="t c" style="left:666px;top:425px;width:28px">95,9</div>
<div class="t c" style="left:695px;top:425px;width:26px">81,0</div>
<div class="r" style="left:1px;top:49px;width:745px;height:1px;background:#000"></div>
<div class="r" style="left:1px;top:82px;width:745px;height:1px;background:#000"></div>
<div class="r" style="left:1px;top:102px;width:745px;height:1px;background:#000"></div>
<div class="r" style="left:1px;top:422px;width:745px;height:1px;background:#000"></div>
<div class="dl" style="left:3px;top:162px;width:743px"></div>
<div class="dl" style="left:3px;top:262px;width:743px"></div>
<div class="r" style="left:73px;top:49px;width:1px;height:391px;background:#000"></div>
<div class="r" style="left:100px;top:32px;width:1px;height:408px;background:#000"></div>
<div class="r" style="left:363px;top:32px;width:1px;height:408px;background:#000"></div>
<div class="r" style="left:392px;top:32px;width:1px;height:408px;background:#000"></div>
<div class="r" style="left:636px;top:32px;width:1px;height:408px;background:#000"></div>
<div class="r" style="left:665px;top:32px;width:1px;height:408px;background:#000"></div>
<div class="r" style="left:694px;top:32px;width:1px;height:408px;background:#000"></div>
<div class="r" style="left:73px;top:450px;width:27px;height:17px;background:#66F5FF"></div>
<div class="t l" style="left:107px;top:452px;width:293px;letter-spacing:0.67px;-webkit-text-stroke-width:0.12px">lättaste hålet (snitt över par) på resp 9 hål</div>
<div class="r" style="left:73px;top:472px;width:27px;height:17px;background:#BFBFBF"></div>
<div class="t l" style="left:107px;top:474px;width:293px;letter-spacing:0.554px;-webkit-text-stroke-width:0.12px">svåraste hålet (snitt över par)&nbsp; på resp 9 hål</div>
</body></html>
